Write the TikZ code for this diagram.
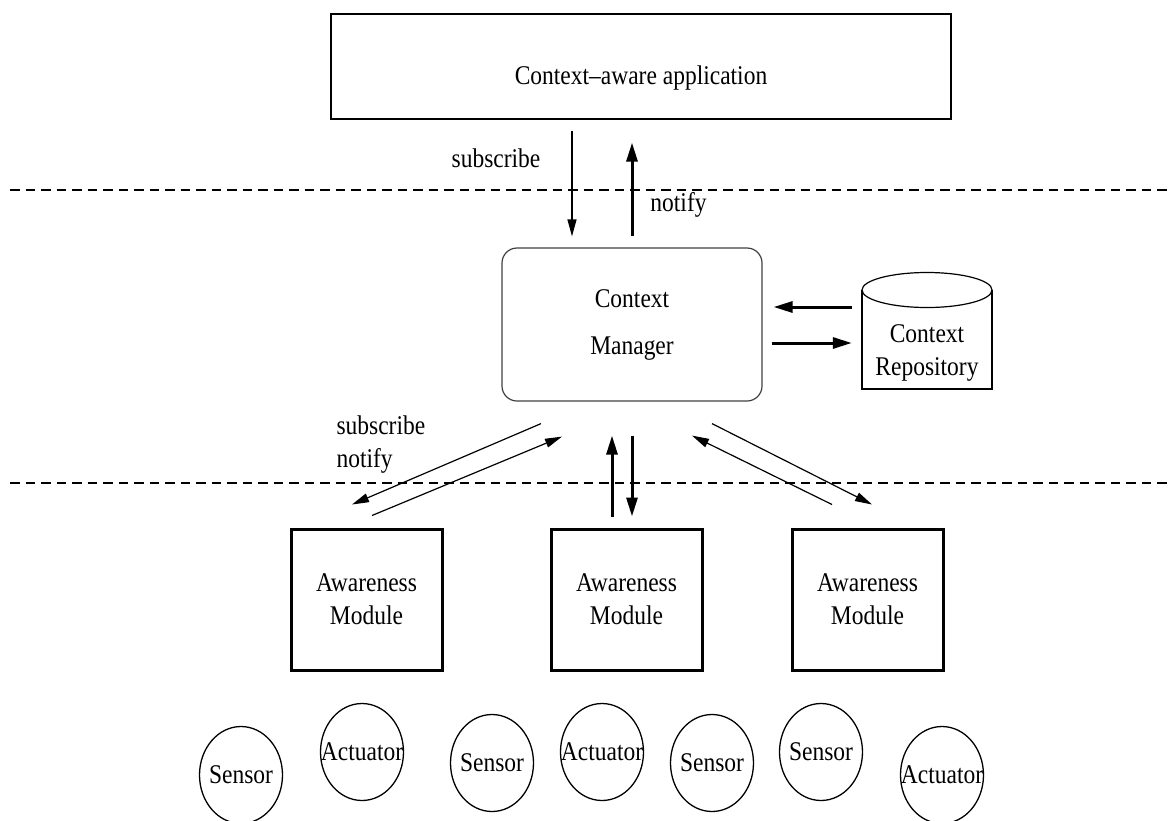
\documentclass[tikz,border=0pt]{standalone}
\usepackage{fontspec}
\setmainfont{Liberation Serif}[FakeStretch=0.87]
\usepackage{tikz}
\usetikzlibrary{arrows.meta, positioning, shapes.geometric}

\begin{document}
\begin{tikzpicture}[x=1pt, y=-1pt, font=\fontsize{27}{33}\selectfont,
        thinarrow/.style={-{Triangle[length=17pt, width=9pt]}, line width=1.2pt},
        boldarrow/.style={-{Triangle[length=19pt, width=11pt]}, line width=3pt},
        layerline/.style={line width=2.8pt, dash pattern=on 9.5pt off 6pt},
        modbox/.style={draw, rectangle, line width=3pt, minimum width=151pt, minimum height=141pt, align=center},
        ioball/.style={draw, ellipse, line width=1.3pt, minimum width=83pt, minimum height=97pt, inner sep=0pt}]
        \useasboundingbox (0,0) rectangle (1171,820);

        % Layers
        \draw [layerline] (10,190) -- (1171,190);
        \draw [layerline] (10,483) -- (1171,483);

        % Nodes for application and manager
        \node [draw, rectangle, line width=1.2pt, minimum width=620pt, minimum height=105pt, text height=41pt, text depth=6pt] (app) at (641,66.5) {Context--aware application};
        \node [draw=black!75, rectangle, rounded corners=15pt, line width=1.2pt, minimum width=260pt, minimum height=153pt, align=center] (mgr) at (632,324.5) {Context\\[14pt]Manager};
        \node [minimum width=130pt, inner sep=0pt, align=center] (repo) at (927,353) {Context\\Repository};
        \draw [line width=1.2pt] (repo.center) ++(-65,-63) -- ++(0,99) -- ++(130,0) -- ++(0,-99);
        \draw [line width=1.2pt] (repo.center) ++(0,-63) ellipse [x radius=65, y radius=17.5];

        % Nodes for awareness modules
        \node [modbox] (mod1) at (366.5,599.5) {Awareness\\Module};
        \node [modbox] (mod2) at (626.5,599.5) {Awareness\\Module};
        \node [modbox] (mod3) at (867.5,599.5) {Awareness\\Module};

        % Sensors and actuators
        \node [ioball] (sens1) at (241,775) {\makebox[0pt]{Sensor}};
        \node [ioball] (act1) at (362,752) {\makebox[0pt]{Actuator}};
        \node [ioball] (sens2) at (492,763) {\makebox[0pt]{Sensor}};
        \node [ioball] (act2) at (602,752) {\makebox[0pt]{Actuator}};
        \node [ioball] (sens3) at (712,763) {\makebox[0pt]{Sensor}};
        \node [ioball] (sens4) at (821,752) {\makebox[0pt]{Sensor}};
        \node [ioball] (act3) at (942,775) {\makebox[0pt]{Actuator}};

        % Arrows between application and manager
        \draw [thinarrow, shorten <=11pt, shorten >=11pt] ([xshift=-69pt]app.south) -- ([xshift=-60pt]mgr.north);
        \draw [boldarrow, shorten <=11pt, shorten >=23pt] (mgr.north) -- ([xshift=-9pt]app.south);
        \node (subtop) at (496,158) {subscribe};
        \node (notifytop) at (678.5,205) {notify};

        % Arrows between manager and repository
        \draw [boldarrow, shorten <=10pt, shorten >=11pt] ([yshift=46pt]repo.west) -- ([yshift=17.5pt]mgr.east);
        \draw [boldarrow, shorten <=9pt, shorten >=10pt] ([yshift=-18.5pt]mgr.east) -- ([yshift=10pt]repo.west);

        % Arrows between manager and modules
        \draw [thinarrow] ([xshift=-91pt, yshift=-22pt]mgr.south) -- ([xshift=-14.5pt, yshift=23pt]mod1.north);
        \draw [thinarrow] ([xshift=5.5pt, yshift=12pt]mod1.north) -- ([xshift=-70pt, yshift=-35pt]mgr.south);
        \draw [boldarrow, shorten <=11pt, shorten >=34pt] ([xshift=-14.5pt]mod2.north) -- ([xshift=-20pt]mgr.south);
        \draw [boldarrow, shorten <=34pt, shorten >=11pt] (mgr.south) -- ([xshift=5.5pt]mod2.north);
        \draw [thinarrow] ([xshift=80pt, yshift=-22pt]mgr.south) -- ([xshift=4.5pt, yshift=23pt]mod3.north);
        \draw [thinarrow] ([xshift=-35.5pt, yshift=23pt]mod3.north) -- ([xshift=60pt, yshift=-34pt]mgr.south);
        \node [anchor=west, align=left] (subbot) at (333,445) {subscribe\\notify};
\end{tikzpicture}
\end{document}
